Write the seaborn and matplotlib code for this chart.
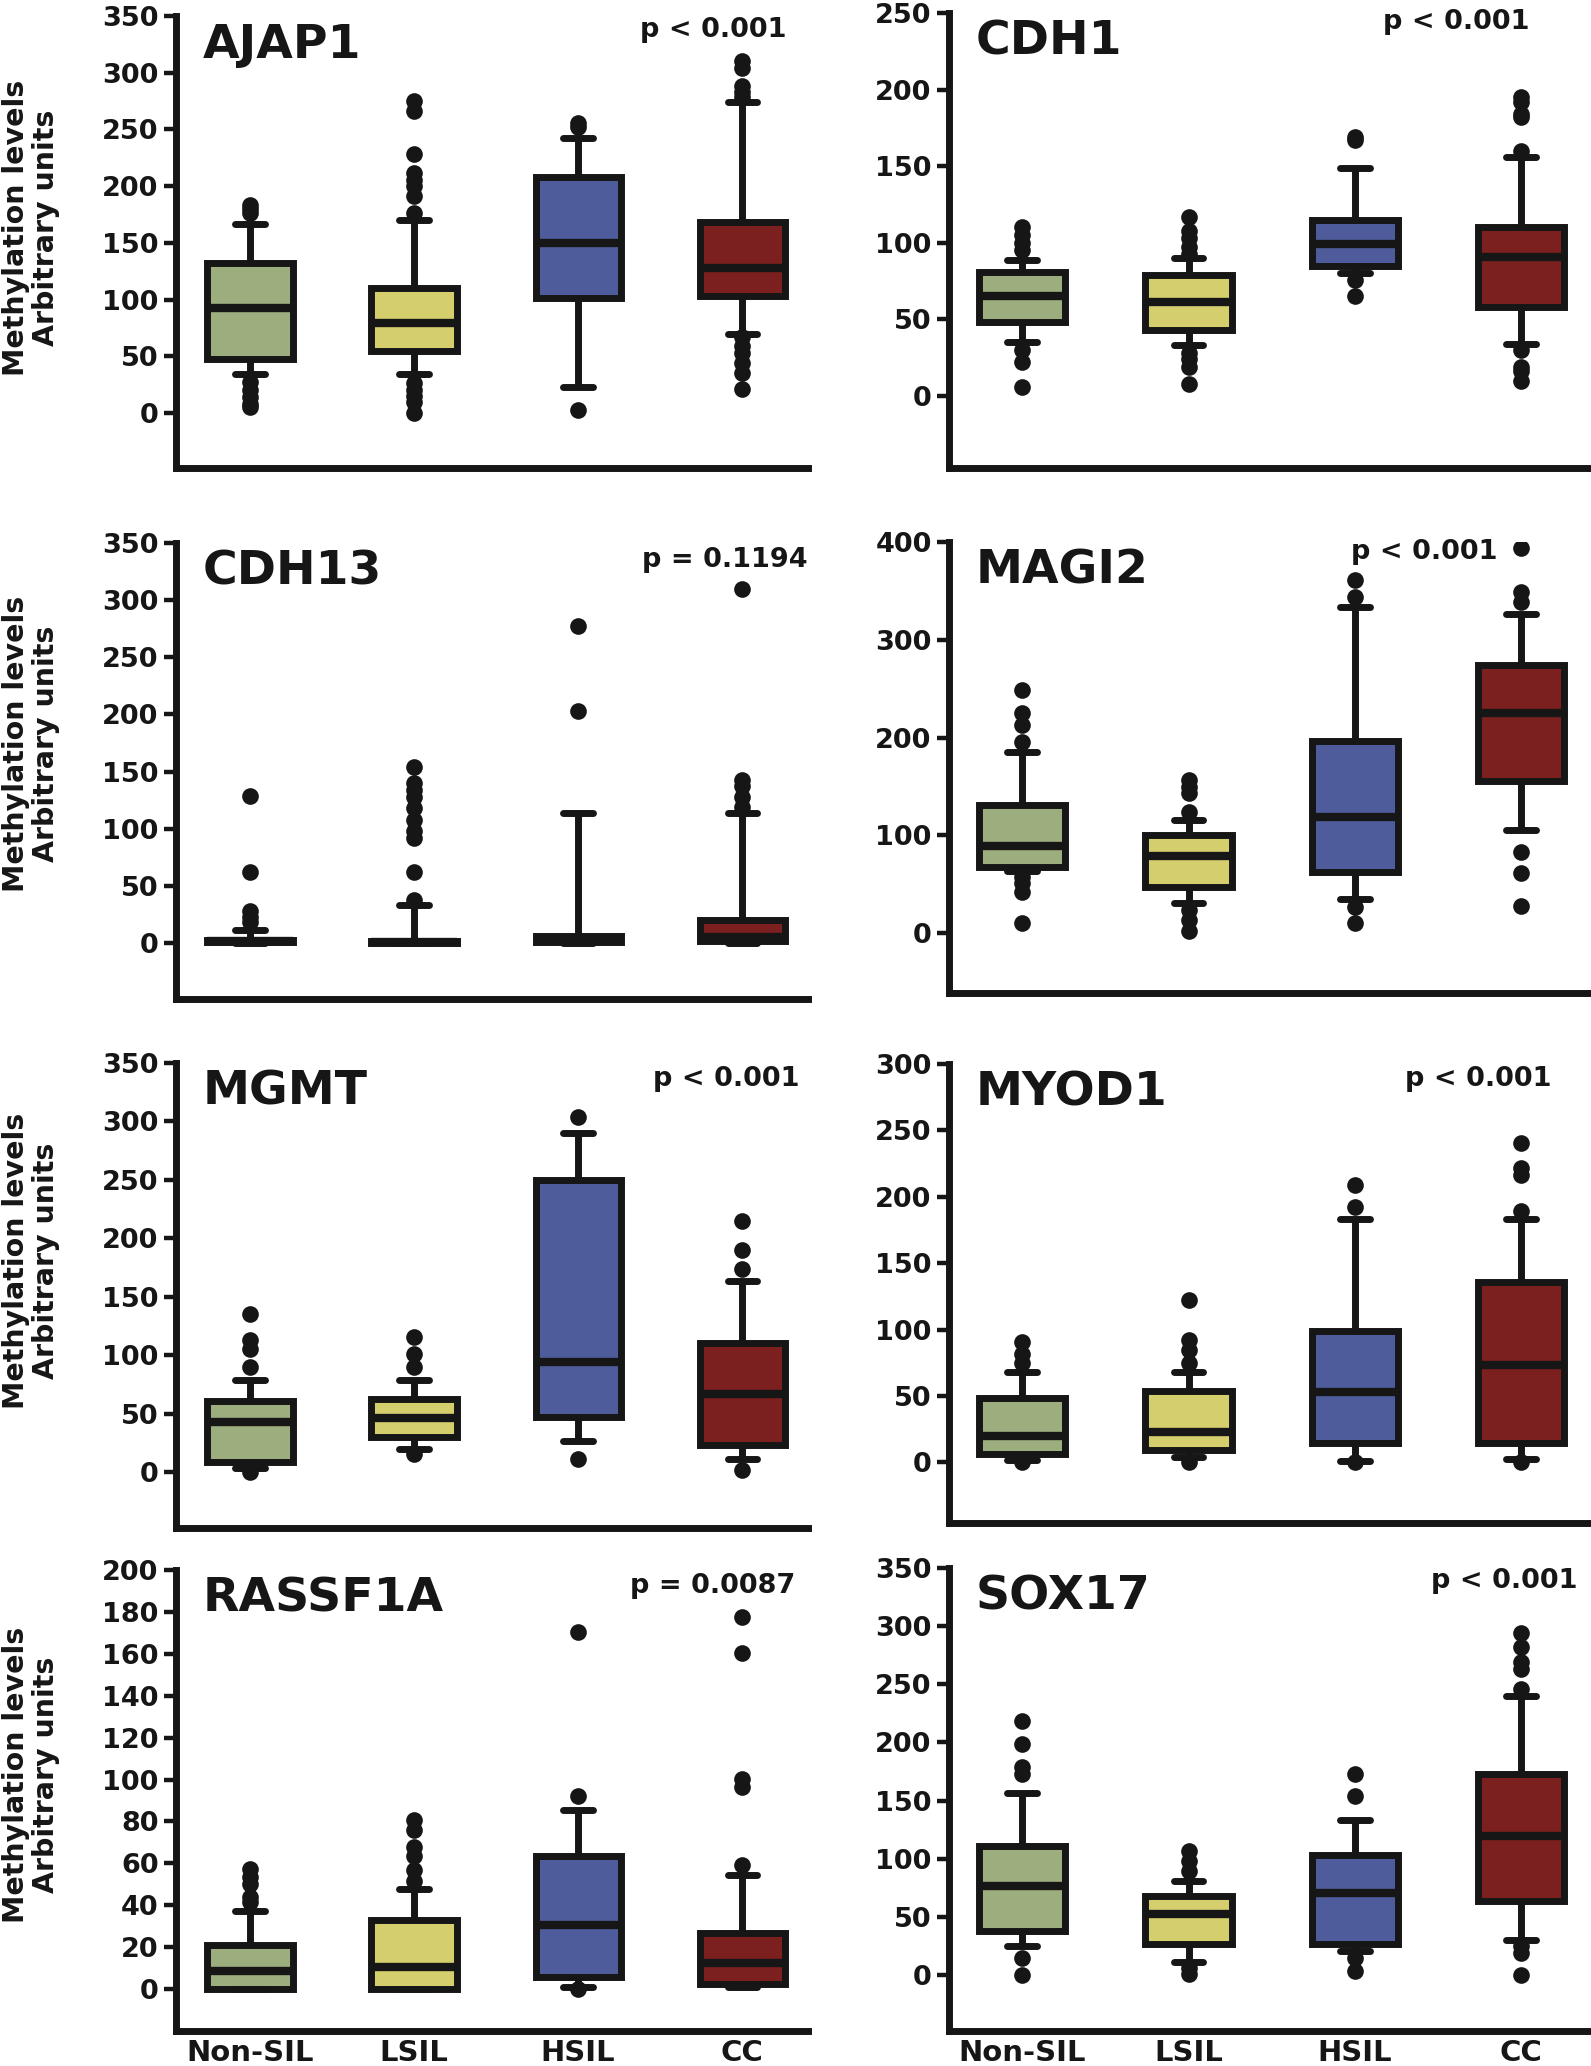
import matplotlib
matplotlib.use("Agg")
import matplotlib.pyplot as plt
import pandas as pd
import seaborn as sns

# categories and panel texts
groups = ["Non-SIL", "LSIL", "HSIL", "CC"]
genes = ["AJAP1", "CDH1", "CDH13", "MAGI2", "MGMT", "MYOD1", "RASSF1A", "SOX17"]
p_labels = ["p < 0.001", "p < 0.001", "p = 0.1194", "p < 0.001",
            "p < 0.001", "p < 0.001", "p = 0.0087", "p < 0.001"]
y_tops = [350, 250, 350, 400, 350, 300, 200, 350]
y_steps = [50, 50, 50, 100, 50, 50, 20, 50]

# box summaries per group: whisker low, q1, median, q3, whisker high
ajap1_box = [[34, 48, 93, 132, 167], [34, 55, 79, 110, 170],
             [23, 101, 150, 208, 242], [70, 103, 128, 168, 274]]
ajap1_out = [[176, 180, 183, 27, 20, 14, 8, 5],
             [176, 191, 200, 205, 212, 228, 266, 275, 26, 20, 15, 10, 0],
             [252, 256, 3],
             [279, 283, 288, 304, 310, 67, 59, 53, 44, 35, 21]]

cdh1_box = [[35, 48.5, 65, 81, 89], [33, 43, 61.5, 79, 90],
            [80, 85, 99.5, 115, 149], [34, 58, 91, 110, 156]]
cdh1_out = [[95, 100, 105, 110, 30, 22, 6],
            [93, 97, 103, 108, 117, 28, 24, 19, 8],
            [167, 169, 76, 65],
            [160, 182, 184, 192, 195, 30, 19, 16, 10]]

cdh13_box = [[0, 0.5, 1.5, 3, 11.6], [0, 0.2, 1, 2, 33.5],
             [0, 0.5, 3, 6, 113.6], [0, 2, 5, 20, 114]]
cdh13_out = [[18, 23, 28, 62, 129],
             [38, 62, 92, 98, 108, 118, 128, 134, 140, 154],
             [203, 277],
             [119, 128, 137, 143, 310]]

magi2_box = [[64, 68, 89, 131, 185.5], [31, 47, 79, 101, 116],
             [35, 63, 119, 197, 334], [106, 156, 225, 274, 326]]
magi2_out = [[196, 213, 225, 249, 58, 51, 42.5, 11],
             [124, 143, 150, 157, 24, 14, 2],
             [344, 361.5, 27, 11],
             [339, 349, 394, 83, 62, 28]]

mgmt_box = [[3.7, 8.6, 43, 61, 79], [20, 30, 46.5, 62, 79],
            [26.5, 47, 94, 250, 290], [11.4, 22.8, 66.5, 110.7, 163]]
mgmt_out = [[90, 105.5, 113, 135.5, 0],
            [90, 101, 115.5, 15.7],
            [304, 11.4],
            [174, 190, 215, 1.5]]

myod1_box = [[2, 6.5, 19.6, 48.5, 68], [3.8, 9.5, 22.6, 53.5, 68],
             [1.3, 14.6, 52.7, 98.7, 183], [2.8, 14.6, 73.6, 136, 183]]
myod1_out = [[75, 82, 91, 0],
             [75, 85, 92, 122.5, 0],
             [192, 208.6, 0],
             [189, 216.7, 221.7, 240.5, 0]]

rassf1a_box = [[0, 0, 8.8, 21.2, 37.5], [0, 0, 10.4, 33, 48],
               [1.1, 5.6, 30.6, 63.7, 85.6], [0.8, 2.4, 12.3, 27, 54.5]]
rassf1a_out = [[41.4, 43.8, 50.2, 53.4, 57.4],
               [51.8, 56.6, 63.7, 67.7, 75.7, 80.5],
               [92, 170.5, 0],
               [59, 96.4, 100.4, 160.5, 177.7]]

sox17_box = [[25, 38, 77, 111, 157], [11.5, 26.4, 52.8, 68, 81],
             [21, 26.4, 71, 103, 133], [30, 63.7, 119.7, 173, 240]]
sox17_out = [[173, 178.6, 198.7, 218.8, 15, 0.5],
             [89.6, 98, 107, 6.3, 0.6],
             [154, 173, 15, 3.4],
             [246, 263, 269, 282, 294, 25, 19, 0]]

all_boxes = [ajap1_box, cdh1_box, cdh13_box, magi2_box,
             mgmt_box, myod1_box, rassf1a_box, sox17_box]
all_outliers = [ajap1_out, cdh1_out, cdh13_out, magi2_out,
                mgmt_out, myod1_out, rassf1a_out, sox17_out]

group_colors = {"Non-SIL": "#9cad7e", "LSIL": "#d5ce6c",
                "HSIL": "#4f5c9b", "CC": "#7b201f"}
ink = "#161616"

# layout in pixels of the 1591x2066 figure
W, H = 1591, 2066
col_px = [(176, 808), (949, 1591)]
col_xlim = [(-0.45, 3.4), (-0.44, 3.42)]
row_px = [(16, 468), (13, 468), (543, 999), (542, 993),
          (1063, 1528), (1064, 1523), (1570, 2031), (1568, 2031)]
y_bottoms = [-48.5, -47, -49, -61, -48, -45.6, -20, -48]
p_xpos = [3.27, 3.05, 3.40, 2.86, 3.35, 3.18, 3.32, 3.34]
p_drop = [21, 16, 24, 17, 23, 22, 23, 20]
ylab_frac = [0.532, 0.56, 0.574, 0.556]

sns.set_style("ticks")
plt.rcParams["font.family"] = ["DejaVu Sans"]
plt.rcParams["font.weight"] = "bold"
plt.rcParams["text.color"] = ink

fig = plt.figure(figsize=(W / 100, H / 100), dpi=100)

for i, gene in enumerate(genes):
    col = i % 2
    left, right = col_px[col]
    top, bottom = row_px[i]
    ax = fig.add_axes([left / W, 1 - bottom / H, (right - left) / W, (bottom - top) / H])

    box_df = pd.DataFrame(
        [(g, v) for g, row in zip(groups, all_boxes[i]) for v in row],
        columns=["group", "value"])
    out_df = pd.DataFrame(
        [(g, v) for g, row in zip(groups, all_outliers[i]) for v in row],
        columns=["group", "value"])

    sns.boxplot(data=box_df, x="group", y="value", hue="group", order=groups,
                hue_order=groups, palette=group_colors, saturation=1, width=0.52,
                whis=(0, 100), showfliers=False, linecolor=ink, linewidth=5,
                legend=False, capwidths=0.18, ax=ax,
                medianprops={"linewidth": 6})
    sns.stripplot(data=out_df, x="group", y="value", order=groups, color=ink,
                  size=12, jitter=False, linewidth=0, ax=ax, zorder=4)

    ax.set_xlim(*col_xlim[col])
    ax.set_ylim(y_bottoms[i], y_tops[i])
    ax.set_yticks(range(0, y_tops[i] + 1, y_steps[i]))
    ax.set_xlabel("")
    ax.set_ylabel("")
    sns.despine(ax=ax)
    for side in ["left", "bottom"]:
        ax.spines[side].set_linewidth(5)
        ax.spines[side].set_color(ink)
        ax.spines[side].set_capstyle("projecting")
    ax.tick_params(axis="y", length=8.5, width=3.2, pad=4, labelsize=19.5,
                   color=ink, labelcolor=ink)
    ax.tick_params(axis="x", length=0, pad=6, labelsize=21, labelcolor=ink,
                   labelbottom=(i >= 6))
    for lab in ax.get_yticklabels() + ax.get_xticklabels():
        lab.set_fontweight("bold")

    ax.annotate(gene, xy=(0, 1), xycoords="axes fraction", xytext=(19, -30),
                textcoords="offset points", ha="left", va="baseline",
                fontsize=34, fontweight="bold")
    ax.annotate(p_labels[i], xy=(p_xpos[i], 1), xycoords=("data", "axes fraction"),
                xytext=(0, -p_drop[i] / 1.389), textcoords="offset points",
                ha="right", va="baseline", fontsize=19.5, fontweight="bold")

    if col == 0:
        ax.text(-0.229, ylab_frac[i // 2], "Methylation levels\nArbitrary units",
                transform=ax.transAxes, rotation=90, ha="center", va="center",
                fontsize=20.5, fontweight="bold", linespacing=1.1)

fig.savefig("out.png", dpi=100)
